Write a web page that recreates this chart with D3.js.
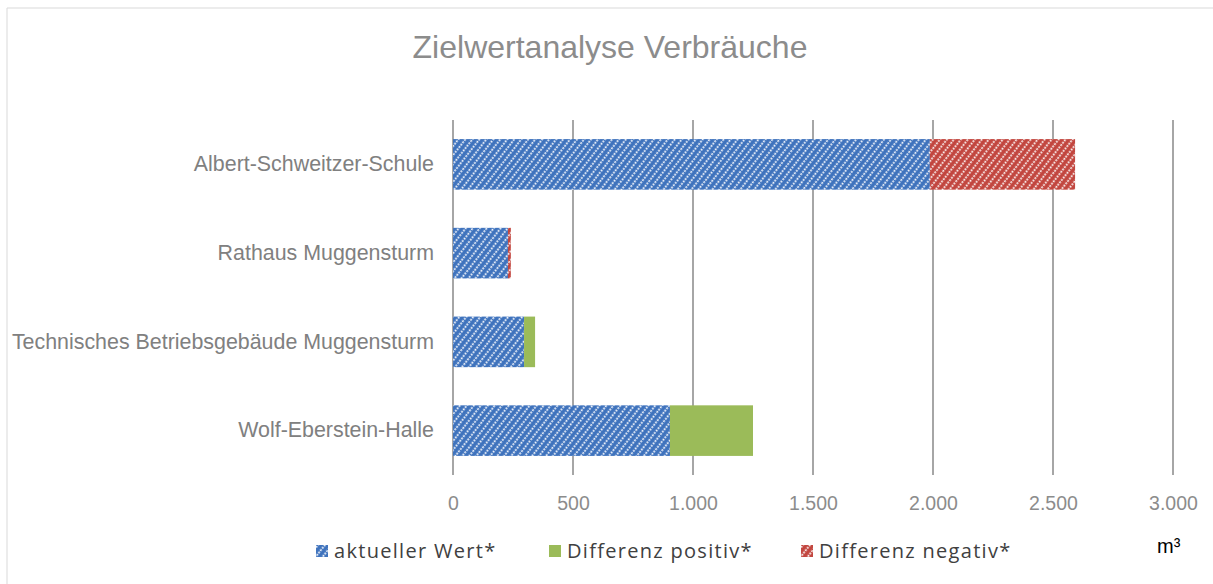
<!DOCTYPE html>
<html>
<head>
<meta charset="utf-8">
<script src="https://cdn.jsdelivr.net/npm/d3@7"></script>
<style>
	body { margin: 0; background: #fff; }
	svg { display: block; }
</style>
</head>
<body>
<script>
//data
var categories = ["Albert-Schweitzer-Schule", "Rathaus Muggensturm", "Technisches Betriebsgebäude Muggensturm", "Wolf-Eberstein-Halle"];
var aktuell = [1987, 229, 296, 904];
var diffPositiv = [0, 0, 46, 346];
var diffNegativ = [605, 12, 0, 0];
var ticks = [0, 500, 1000, 1500, 2000, 2500, 3000];
var legendLabels = ["aktueller Wert*", "Differenz positiv*", "Differenz negativ*"];

window.onload = drawChart();

function drawChart(){

	var width = 1213,
		height = 584;

	var svg = d3.select("body")
		.append("svg")
		.attr("width", width)
		.attr("height", height);

	//patterns for the hatched series
	var defs = svg.append("defs");
	function hatch(id, color){
		var p = defs.append("pattern")
			.attr("id", id)
			.attr("patternUnits", "userSpaceOnUse")
			.attr("width", 5.5)
			.attr("height", 6)
			.attr("patternTransform", "rotate(38)");
		p.append("rect")
			.attr("width", 5.5)
			.attr("height", 6)
			.attr("fill", color);
		p.append("line")
			.attr("x1", 1.5).attr("y1", 0)
			.attr("x2", 1.5).attr("y2", 6)
			.attr("stroke", "#fff")
			.attr("stroke-width", 1.7)
			.attr("stroke-dasharray", "2 1")
			.attr("stroke-opacity", 0.9);
	}
	hatch("blueHatch", "#3f73bd");
	hatch("redHatch", "#c2463f");

	//chart frame
	svg.append("path")
		.attr("d", "M7,584 V8 H1213")
		.attr("fill", "none")
		.attr("stroke", "#d9d9d9")
		.attr("stroke-width", 1);

	//title
	svg.append("text")
		.attr("x", 610)
		.attr("y", 58)
		.attr("text-anchor", "middle")
		.attr("font-family", "Liberation Sans, Arial, sans-serif")
		.attr("font-size", 32)
		.attr("fill", "#8c8c8c")
		.text("Zielwertanalyse Verbräuche");

	//scales
	var x = d3.scaleLinear()
		.domain([0, 3000])
		.range([453, 1173]);

	var y = d3.scaleBand()
		.domain(categories)
		.range([120, 475])
		.paddingInner(0.43)
		.paddingOuter(0.215);

	//gridlines
	svg.append("g")
		.selectAll("line")
		.data(ticks)
		.enter()
		.append("line")
		.attr("x1", function(d){ return x(d); })
		.attr("x2", function(d){ return x(d); })
		.attr("y1", 120)
		.attr("y2", 475)
		.attr("stroke", "#a6a6a6")
		.attr("stroke-width", 2);

	//x axis labels
	var fmt = function(d){ return d3.format(",")(d).replace(/,/g, "."); };
	var xAxis = svg.append("g")
		.attr("transform", "translate(0,475)")
		.call(d3.axisBottom(x).tickValues(ticks).tickFormat(fmt).tickSize(0).tickPadding(21));
	xAxis.select(".domain").remove();
	xAxis.selectAll("text")
		.attr("font-family", "Liberation Sans, Arial, sans-serif")
		.attr("font-size", 19.5)
		.attr("fill", "#8c8c8c");

	//y axis labels
	var yAxis = svg.append("g")
		.attr("transform", "translate(453,0)")
		.call(d3.axisLeft(y).tickSize(0).tickPadding(19));
	yAxis.select(".domain").remove();
	yAxis.selectAll("text")
		.attr("font-family", "Liberation Sans, Arial, sans-serif")
		.attr("font-size", 21.4)
		.attr("fill", "#808080");

	//stacked bars
	var rows = categories.map(function(c, i){
		return {cat: c, a: aktuell[i], p: diffPositiv[i], n: diffNegativ[i]};
	});
	var stack = d3.stack().keys(["a", "p", "n"])(rows);
	var fills = {a: "url(#blueHatch)", p: "#9bbb59", n: "url(#redHatch)"};

	svg.append("g")
		.selectAll("g")
		.data(stack)
		.enter()
		.append("g")
		.attr("fill", function(d){ return fills[d.key]; })
		.selectAll("rect")
		.data(function(d){ return d; })
		.enter()
		.append("rect")
		.attr("x", function(d){ return x(d[0]); })
		.attr("y", function(d){ return y(d.data.cat); })
		.attr("width", function(d){ return x(d[1]) - x(d[0]); })
		.attr("height", y.bandwidth());

	//legend
	var legendX = [316, 549, 801];
	var legendFill = ["url(#blueHatch)", "#9bbb59", "url(#redHatch)"];
	var legend = svg.append("g")
		.selectAll("g")
		.data(legendLabels)
		.enter()
		.append("g")
		.attr("transform", function(d, i){ return "translate(" + legendX[i] + ",545)"; });
	legend.append("rect")
		.attr("width", 12)
		.attr("height", 12)
		.attr("fill", function(d, i){ return legendFill[i]; });
	legend.append("text")
		.attr("x", 18)
		.attr("y", 13)
		.attr("font-family", "Open Sans, sans-serif")
		.attr("font-size", 20)
		.attr("font-weight", 500)
		.attr("letter-spacing", 1.3)
		.attr("fill", "#404040")
		.text(function(d){ return d; });

	//unit label
	svg.append("text")
		.attr("x", 1157)
		.attr("y", 553)
		.attr("font-family", "Liberation Sans, Arial, sans-serif")
		.attr("font-size", 20)
		.attr("fill", "#000")
		.text("m³");
};
</script>
</body>
</html>
